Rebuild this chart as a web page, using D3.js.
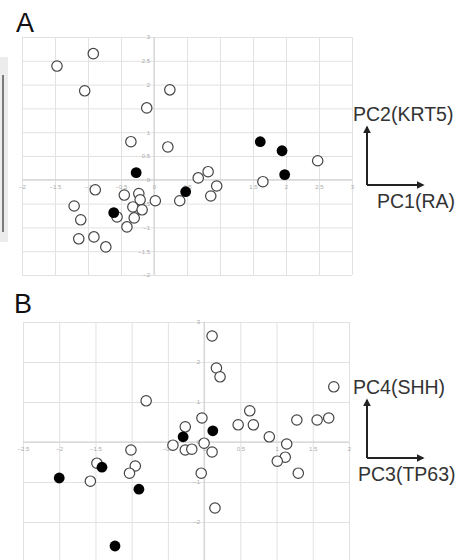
<!DOCTYPE html>
<html>
<head>
<meta charset="utf-8">
<script src="https://cdn.jsdelivr.net/npm/d3@7"></script>
<style>
  body { margin: 0; background: #fff; }
  svg { display: block; font-family: "Liberation Sans", Arial, sans-serif; }
  .grid line { stroke: #e2e2e2; stroke-width: 1; }
  .grid path { display: none; }
  .ticks path { display: none; }
  .ticks text { fill: #aaa; font-size: 6px; }
</style>
</head>
<body>
<svg></svg>
<script>
var width = 472,
    height = 560;

// panel A : PC1 vs PC2
var openA = [
  [-1.47, 2.39], [-0.92, 2.65], [-1.05, 1.87], [0.24, 1.89], [-0.11, 1.51],
  [-0.35, 0.80], [0.21, 0.69], [-0.89, -0.21], [-0.45, -0.32], [-0.23, -0.29],
  [-0.21, -0.42], [0.02, -0.44], [-0.32, -0.57], [-0.18, -0.63], [-0.30, -0.80],
  [-0.41, -0.99], [-0.56, -0.78], [-1.21, -0.55], [-1.11, -0.84], [-1.14, -1.24],
  [-0.91, -1.20], [-0.73, -1.41], [0.39, -0.44], [0.67, 0.04], [0.82, 0.17],
  [0.95, -0.13], [0.86, -0.34], [2.48, 0.40], [1.65, -0.04]
];
var filledA = [
  [-0.27, 0.15], [-0.61, -0.69], [0.48, -0.25], [1.61, 0.80], [1.94, 0.61], [1.98, 0.11]
];
var ticksAx = [-2, -1.5, -1, -0.5, 0, 0.5, 1, 1.5, 2, 2.5, 3];
var ticksAy = [-2, -1.5, -1, -0.5, 0, 0.5, 1, 1.5, 2, 2.5, 3];

// panel B : PC3 vs PC4
var openB = [
  [0.11, 2.65], [0.17, 1.85], [0.22, 1.63], [-0.80, 1.03], [-0.03, 0.60],
  [-0.26, 0.38], [0.47, 0.43], [-0.43, -0.08], [-0.26, -0.20], [-0.17, -0.18],
  [0.00, -0.03], [0.11, -0.25], [-1.01, -0.20], [-1.48, -0.53], [-0.95, -0.60],
  [-1.03, -0.78], [-1.57, -0.98], [-0.04, -0.78], [0.15, -1.65], [1.79, 1.38],
  [0.63, 0.78], [0.68, 0.43], [1.28, 0.55], [1.56, 0.55], [1.72, 0.60],
  [0.90, 0.13], [1.14, -0.05], [1.12, -0.38], [1.01, -0.48], [1.30, -0.78]
];
var filledB = [
  [0.12, 0.28], [-0.29, 0.13], [-1.41, -0.63], [-2.00, -0.90], [-0.90, -1.18], [-1.23, -2.60]
];
var ticksBx = [-2.5, -2, -1.5, -1, -0.5, 0, 0.5, 1, 1.5, 2];
var ticksBy = [-3, -2, -1, 0, 1, 2, 3];
var labelsBy = [-2, -1, 0, 1, 2, 3]; // -3 falls off the bottom edge

var svg = d3.select("svg")
    .attr("width", width)
    .attr("height", height);

// arrowhead
svg.append("defs").append("marker")
    .attr("id", "arrowhead")
    .attr("viewBox", "0 -5 10 10")
    .attr("refX", 8)
    .attr("refY", 0)
    .attr("markerWidth", 4)
    .attr("markerHeight", 4)
    .attr("orient", "auto")
  .append("path")
    .attr("d", "M0,-5 L10,0 L0,5")
    .attr("fill", "#222");

// leftover edge of the neighbouring figure
svg.append("rect").attr("x", 0).attr("y", 57).attr("width", 8).attr("height", 185).attr("fill", "#ececec");
svg.append("line").attr("x1", 3).attr("x2", 3).attr("y1", 75).attr("y2", 232)
    .attr("stroke", "#555").attr("stroke-width", 1.5);

function drawPanel(opt) {
  var g = svg.append("g");
  var x = d3.scaleLinear().domain(opt.xd).range(opt.xr);
  var y = d3.scaleLinear().domain(opt.yd).range(opt.yr);

  //grid
  g.append("g").attr("class", "grid")
    .attr("transform", "translate(0," + opt.yr[0] + ")")
    .call(d3.axisBottom(x).tickValues(opt.xt).tickSize(-(opt.yr[0] - opt.yr[1])).tickFormat(""));
  g.append("g").attr("class", "grid")
    .attr("transform", "translate(" + opt.xr[0] + ",0)")
    .call(d3.axisLeft(y).tickValues(opt.yt).tickSize(-(opt.xr[1] - opt.xr[0])).tickFormat(""));

  //zero lines
  g.append("line").attr("x1", x(0)).attr("x2", x(0)).attr("y1", opt.yr[1]).attr("y2", opt.yr[0])
    .attr("stroke", "#cfcfcf");
  g.append("line").attr("x1", opt.xr[0]).attr("x2", opt.xr[1]).attr("y1", y(0)).attr("y2", y(0))
    .attr("stroke", "#cfcfcf");

  //tick labels on the zero lines
  g.append("g").attr("class", "ticks")
    .attr("transform", "translate(0," + y(0) + ")")
    .call(d3.axisBottom(x).tickValues(opt.xt).tickSize(0).tickPadding(5).tickFormat(d3.format("")))
    .selectAll("line").remove();
  g.append("g").attr("class", "ticks")
    .attr("transform", "translate(" + x(0) + ",0)")
    .call(d3.axisLeft(y).tickValues(opt.yl).tickSize(0).tickPadding(4).tickFormat(d3.format("")))
    .selectAll("line").remove();

  //points
  g.selectAll(".open").data(opt.open).enter().append("circle")
    .attr("class", "open")
    .attr("cx", function(d) { return x(d[0]); })
    .attr("cy", function(d) { return y(d[1]); })
    .attr("r", 5.2)
    .attr("fill", "#fff")
    .attr("stroke", "#444")
    .attr("stroke-width", 1.2);
  g.selectAll(".filled").data(opt.filled).enter().append("circle")
    .attr("class", "filled")
    .attr("cx", function(d) { return x(d[0]); })
    .attr("cy", function(d) { return y(d[1]); })
    .attr("r", 5.4)
    .attr("fill", "#000");

  //panel letter
  svg.append("text").attr("x", opt.letterX).attr("y", opt.letterY)
    .attr("font-size", 27).attr("fill", "#111").text(opt.letter);

  //direction key
  var ax = 367;
  svg.append("line").attr("x1", ax).attr("x2", ax).attr("y1", opt.keyY).attr("y2", opt.keyY - 58)
    .attr("stroke", "#222").attr("stroke-width", 2).attr("marker-end", "url(#arrowhead)");
  svg.append("line").attr("x1", ax).attr("x2", ax + 56).attr("y1", opt.keyY).attr("y2", opt.keyY)
    .attr("stroke", "#222").attr("stroke-width", 2).attr("marker-end", "url(#arrowhead)");
  svg.append("text").attr("x", opt.upX).attr("y", opt.keyY - 64)
    .attr("font-size", 19.5).attr("fill", "#333").text(opt.upLabel);
  svg.append("text").attr("x", opt.rightX).attr("y", opt.keyY + 23)
    .attr("font-size", 19.5).attr("fill", "#333").text(opt.rightLabel);
}

drawPanel({
  xd: [-2, 3], xr: [22, 352], yd: [-2, 3], yr: [275, 37],
  xt: ticksAx, yt: ticksAy, yl: ticksAy, open: openA, filled: filledA,
  letter: "A", letterX: 16, letterY: 32,
  keyY: 185, upLabel: "PC2(KRT5)", upX: 353, rightLabel: "PC1(RA)", rightX: 377
});

drawPanel({
  xd: [-2.5, 2], xr: [23, 349], yd: [-3, 3], yr: [562, 322],
  xt: ticksBx, yt: ticksBy, yl: labelsBy, open: openB, filled: filledB,
  letter: "B", letterX: 14, letterY: 313,
  keyY: 458, upLabel: "PC4(SHH)", upX: 353, rightLabel: "PC3(TP63)", rightX: 358
});
</script>
</body>
</html>
